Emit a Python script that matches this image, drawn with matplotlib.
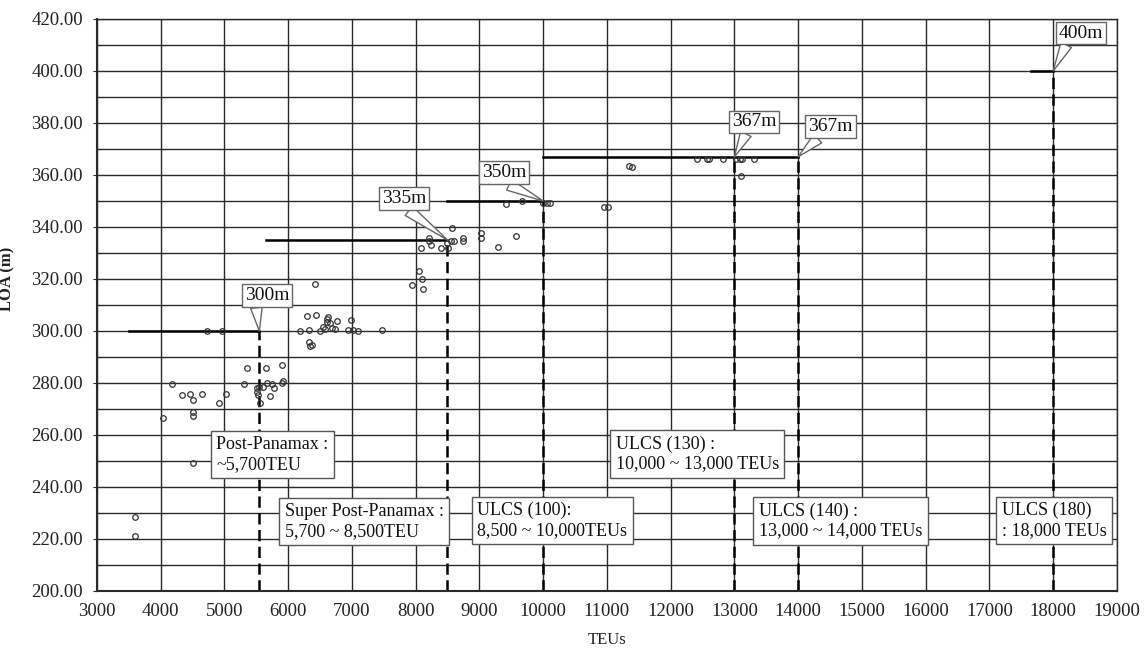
import numpy as np
import matplotlib
matplotlib.use("Agg")
import matplotlib.pyplot as plt

# container ships: capacity (TEU) vs length overall (m)
teu = [3600, 3600, 4035, 4176, 4343, 4464, 4506, 4657, 4510, 4510, 4510,
       4725, 4961, 4918, 5023, 5311, 5363, 5651, 5912,
       5509, 5509, 5525, 5546, 5562, 5614, 5667, 5745, 5786, 5719, 5902, 5918,
       6189, 6330, 6304, 6435, 6503, 6555, 6581, 6608, 6618, 6633, 6660, 6696,
       6738, 6765, 6984, 6947, 7025, 7104, 7470, 6424, 6335, 6346, 6372,
       7951, 8061, 8108, 8114, 8087, 8218, 8218, 8244, 8400, 8490, 8510, 8569,
       8605, 8560, 8751, 8751, 9028, 9028, 9300, 9577, 9420, 9666,
       10006, 10060, 10110, 10957, 11025,
       11340, 11392, 12412, 12568, 12604, 12829, 13023, 13091, 13118, 13300, 13107]
loa = [228.3, 221.3, 266.4, 279.5, 275.4, 275.6, 273.5, 275.6, 268.7, 267.4, 249.4,
       300.0, 300.0, 272.4, 275.6, 279.5, 285.6, 285.6, 286.9,
       278.0, 276.7, 275.4, 278.6, 272.2, 278.6, 280.1, 279.6, 278.0, 275.1, 279.9, 280.9,
       300.0, 300.4, 305.8, 306.2, 300.1, 301.4, 300.6, 304.6, 303.6, 305.5, 303.0, 301.0,
       300.6, 303.8, 304.2, 300.4, 300.4, 300.1, 300.4, 318.2, 295.9, 294.2, 294.6,
       317.8, 323.1, 320.1, 316.2, 332.0, 335.8, 334.6, 333.2, 332.0, 334.0, 332.0, 339.5,
       334.7, 334.7, 335.6, 334.6, 337.8, 335.9, 332.2, 336.7, 349.0, 350.0,
       349.2, 349.2, 349.2, 347.6, 347.6,
       363.5, 363.0, 366.2, 366.0, 366.0, 366.0, 366.0, 366.2, 366.0, 366.0, 359.7]

# maximum length per size class
level_loa = [300, 335, 350, 367, 400]
level_from = [3500, 5650, 8500, 10000, 17650]
level_to = [5550, 8500, 10000, 14000, 18000]

# class boundaries (dashed) and the length they reach
bound_teu = [5550, 8500, 10000, 13000, 14000, 18000]
bound_loa = [300, 335, 350, 367, 367, 400]

# length callouts
call_text = ["300m", "335m", "350m", "367m", "367m", "400m"]
call_tip_x = [5550, 8500, 10000, 13000, 14000, 18000]
call_tip_y = [300, 335, 350, 367, 367, 400]
call_x = [5672, 7822, 9390, 13312, 14505, 18440]
call_y = [313.5, 350.8, 360.8, 380.4, 378.6, 414.6]
call_rel = [0.25, 0.5, 0.45, 0.35, 0.3, 0.2]

# class description boxes
cls_text = ["Post-Panamax :\n~5,700TEU",
            "Super Post-Panamax :\n5,700 ~ 8,500TEU",
            "ULCS (100):\n8,500 ~ 10,000TEUs",
            "ULCS (130) :\n10,000 ~ 13,000 TEUs",
            "ULCS (140) :\n13,000 ~ 14,000 TEUs",
            "ULCS (180)\n: 18,000 TEUs"]
cls_x = [5758, 7193, 10142, 12416, 14665, 18012]
cls_y = [252.5, 226.8, 227.1, 252.7, 227.0, 227.1]

plt.rcParams['font.family'] = ['Liberation Serif', 'DejaVu Serif']

fig = plt.figure(figsize=(11.45, 6.48), dpi=100)
ax = fig.add_axes([0.0845, 0.088, 0.891, 0.8827])

ax.set_xlim(3000, 19000)
ax.set_ylim(200, 420)
ax.set_xticks(np.arange(3000, 19001, 1000))
ax.set_yticks(np.arange(200, 421, 20))
ax.set_yticks(np.arange(200, 421, 10), minor=True)
ax.set_yticklabels(["%.2f" % v for v in np.arange(200, 421, 20)])
ax.grid(True, which='major', color='#2a2a2a', lw=1.0)
ax.grid(True, which='minor', axis='y', color='#2a2a2a', lw=1.0)
ax.set_axisbelow(True)
for s in ax.spines.values():
    s.set_color('#2a2a2a')
    s.set_linewidth(1.0)
ax.spines['left'].set_linewidth(1.5)
ax.spines['bottom'].set_linewidth(1.5)
ax.tick_params(axis='x', length=0, pad=9, labelsize=13.5, labelcolor='#222')
ax.tick_params(axis='y', which='major', length=3, pad=7, labelsize=13.5,
               labelcolor='#222', color='#2a2a2a')
ax.tick_params(axis='y', which='minor', length=0)

ax.set_xlabel("TEUs", fontsize=12, color='#222')
ax.xaxis.set_label_coords(0.5, -0.072)
ax.set_ylabel("LOA (m)", fontsize=12, fontweight='bold', color='#222')
ax.yaxis.set_label_coords(-0.08, 0.545)

# class limits
for x, top in zip(bound_teu, bound_loa):
    ax.plot([x, x], [200, top], color='black', lw=1.8, dashes=(4.5, 2.2), zorder=2)
for y, x0, x1 in zip(level_loa, level_from, level_to):
    ax.plot([x0, x1], [y, y], color='black', lw=1.8, zorder=3)

ax.plot(teu, loa, 'o', ms=4, mfc='none', mec='#333', mew=0.9, zorder=4)

for t, x, y in zip(cls_text, cls_x, cls_y):
    ax.text(x, y, t, fontsize=13, ha='center', va='center', multialignment='left',
            color='#111', linespacing=1.2, zorder=6,
            bbox=dict(boxstyle='square,pad=0.3', fc='white', ec='#555', lw=1.0))

for t, tx, ty, x, y, r in zip(call_text, call_tip_x, call_tip_y, call_x, call_y, call_rel):
    ax.annotate(t, xy=(tx, ty), xytext=(x, y), fontsize=14, ha='center', va='center',
                color='#111', zorder=7,
                bbox=dict(boxstyle='square,pad=0.15', fc='white', ec='#666', lw=1.0),
                arrowprops=dict(arrowstyle='wedge,tail_width=0.6,shrink_factor=0.5',
                                fc='white', ec='#666', lw=1.0, relpos=(r, 0),
                                shrinkA=0, shrinkB=0))

fig.savefig("out.png", dpi=100)
